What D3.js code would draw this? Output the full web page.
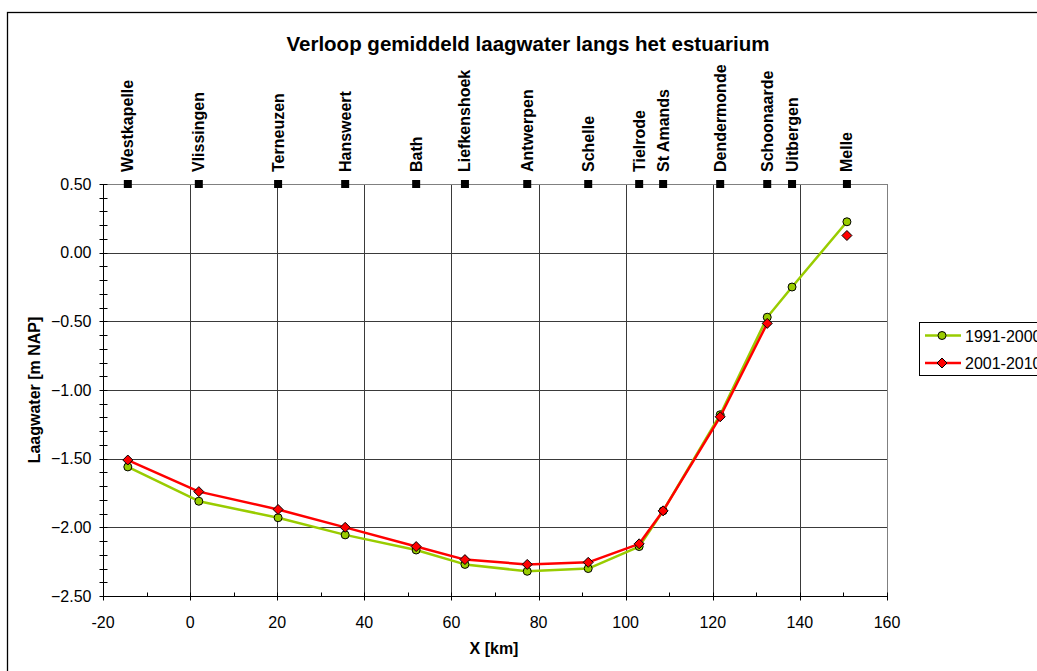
<!DOCTYPE html>
<html lang="nl">
<head>
<meta charset="UTF-8">
<title>Verloop gemiddeld laagwater</title>
<script src="https://d3js.org/d3.v7.min.js"></script>
<style>
  body { margin: 0; background: #fff; }
  text { font-family: "Liberation Sans", Arial, sans-serif; fill: #000; }
</style>
</head>
<body>
<div id="chart"></div>
<script>
// stations along the estuary (km)
var stations = ["Westkapelle", "Vlissingen", "Terneuzen", "Hansweert", "Bath", "Liefkenshoek",
  "Antwerpen", "Schelle", "Tielrode", "St Amands", "Dendermonde", "Schoonaarde", "Uitbergen", "Melle"];
var stationKm = [-14.3, 2.0, 20.2, 35.6, 51.9, 63.1, 77.4, 91.4, 103.1, 108.6, 121.7, 132.5, 138.2, 150.8];

// low water levels [m NAP]
var lw1991 = [-1.56, -1.81, -1.93, -2.055, -2.165, -2.27, -2.32, -2.30, -2.14, -1.88, -1.18, -0.47, -0.25, 0.225];
var lw2001 = [-1.51, -1.74, -1.87, -2.00, -2.14, -2.235, -2.27, -2.255, -2.12, -1.88, -1.195, -0.515, null, 0.125];

var seriesNames = ["1991-2000", "2001-2010"];
var xTicks = [-20, 0, 20, 40, 60, 80, 100, 120, 140, 160];
var yTicks = [0.5, 0, -0.5, -1, -1.5, -2, -2.5];

var W = 1037, H = 671;
var margin = {left: 103, top: 184};
var pw = 887 - margin.left, ph = 596 - margin.top;

var svg = d3.select("#chart").append("svg")
    .attr("width", W).attr("height", H);

// outer chart border (runs off the right and bottom edges)
svg.append("rect")
    .attr("x", 7.5).attr("y", 12.5)
    .attr("width", W + 20).attr("height", H + 20)
    .attr("fill", "none").attr("stroke", "#000").attr("stroke-width", 1.3);

var g = svg.append("g").attr("transform", "translate(" + margin.left + "," + margin.top + ")");

var x = d3.scaleLinear().domain([-20, 160]).range([0, pw]);
var y = d3.scaleLinear().domain([-2.5, 0.5]).range([ph, 0]);

// grid
g.selectAll(".vgrid").data(xTicks.slice(1)).enter().append("line")
    .attr("x1", function(d) { return Math.round(x(d)) + 0.5; })
    .attr("x2", function(d) { return Math.round(x(d)) + 0.5; })
    .attr("y1", 0).attr("y2", ph)
    .attr("stroke", function(d) { return d == 160 ? "#808080" : "#3a3a3a"; });
g.selectAll(".hgrid").data(yTicks.slice(0, -1)).enter().append("line")
    .attr("x1", 0).attr("x2", pw)
    .attr("y1", function(d) { return Math.round(y(d)) + 0.5; })
    .attr("y2", function(d) { return Math.round(y(d)) + 0.5; })
    .attr("stroke", function(d) { return d == 0.5 ? "#808080" : "#3a3a3a"; });

// x axis
var xAxis = g.append("g").attr("transform", "translate(0," + (ph + 0.5) + ")");
xAxis.append("line").attr("x1", 0).attr("x2", pw).attr("stroke", "#000");
xAxis.selectAll(".maj").data(xTicks).enter().append("line")
    .attr("x1", function(d) { return Math.round(x(d)) + 0.5; })
    .attr("x2", function(d) { return Math.round(x(d)) + 0.5; })
    .attr("y1", -4).attr("y2", 4).attr("stroke", "#000");
xAxis.selectAll(".min").data(d3.range(-10, 160, 20)).enter().append("line")
    .attr("x1", function(d) { return Math.round(x(d)) + 0.5; })
    .attr("x2", function(d) { return Math.round(x(d)) + 0.5; })
    .attr("y1", -4).attr("y2", 0).attr("stroke", "#000");
xAxis.selectAll(".lbl").data(xTicks).enter().append("text")
    .attr("x", function(d) { return x(d); })
    .attr("y", 31).attr("text-anchor", "middle")
    .style("font-size", "16px")
    .text(function(d) { return d; });

// y axis
var yAxis = g.append("g").attr("transform", "translate(0.5,0)");
yAxis.append("line").attr("y1", 0).attr("y2", ph).attr("stroke", "#000");
yAxis.selectAll(".tk").data(d3.range(0, 31)).enter().append("line")
    .attr("y1", function(d) { return Math.round(y(-2.5 + d * 0.1)) + 0.5; })
    .attr("y2", function(d) { return Math.round(y(-2.5 + d * 0.1)) + 0.5; })
    .attr("x1", -4).attr("x2", 4).attr("stroke", "#000");
yAxis.selectAll(".lbl").data(yTicks).enter().append("text")
    .attr("x", -12).attr("y", function(d) { return y(d) + 5.5; })
    .attr("text-anchor", "end")
    .style("font-size", "16px")
    .text(function(d) { return d3.format(".2f")(d); });

// axis titles
svg.append("text")
    .attr("x", 494).attr("y", 654).attr("text-anchor", "middle")
    .style("font-size", "16px").style("font-weight", "bold")
    .text("X [km]");
svg.append("text")
    .attr("transform", "translate(40,390) rotate(-90)")
    .attr("text-anchor", "middle")
    .style("font-size", "16px").style("font-weight", "bold")
    .text("Laagwater [m NAP]");
svg.append("text")
    .attr("x", 528).attr("y", 51).attr("text-anchor", "middle")
    .style("font-size", "20.5px").style("font-weight", "bold")
    .text("Verloop gemiddeld laagwater langs het estuarium");

// station markers and labels
g.selectAll(".st").data(stations).enter().append("rect")
    .attr("x", function(d, i) { return x(stationKm[i]) - 4; })
    .attr("y", y(0.5) - 4)
    .attr("width", 8).attr("height", 8).attr("fill", "#000");
g.selectAll(".stl").data(stations).enter().append("text")
    .attr("transform", function(d, i) {
      return "translate(" + (x(stationKm[i]) + 5.5) + "," + (y(0.5) - 12) + ") rotate(-90)";
    })
    .style("font-size", "16px").style("font-weight", "bold")
    .text(function(d) { return d; });

// series
var colors = ["#99CC00", "#FF0000"];
var allData = [lw1991, lw2001].map(function(vals) {
  return vals.map(function(v, i) { return {km: stationKm[i], v: v}; });
});

var line = d3.line()
    .defined(function(d) { return d.v != null; })
    .x(function(d) { return x(d.km); })
    .y(function(d) { return y(d.v); });

var diamondPath = "M0,-5L5,0L0,5L-5,0Z";

allData.forEach(function(data, si) {
  g.append("path").datum(data)
      .attr("d", line)
      .attr("fill", "none").attr("stroke", colors[si]).attr("stroke-width", 2.5)
      .attr("stroke-linejoin", "round");
  var pts = data.filter(function(d) { return d.v != null; });
  if (si == 0) {
    g.selectAll(".c0").data(pts).enter().append("circle")
        .attr("cx", function(d) { return x(d.km); })
        .attr("cy", function(d) { return y(d.v); })
        .attr("r", 4)
        .attr("fill", colors[si]).attr("stroke", "#000").attr("stroke-width", 1);
  } else {
    g.selectAll(".c1").data(pts).enter().append("path")
        .attr("d", diamondPath)
        .attr("transform", function(d) { return "translate(" + x(d.km) + "," + y(d.v) + ")"; })
        .attr("fill", colors[si]).attr("stroke", "#000").attr("stroke-width", 1);
  }
});

// legend
var leg = svg.append("g").attr("transform", "translate(919,322)");
leg.append("rect").attr("x", 0.5).attr("y", 0.5).attr("width", 160).attr("height", 53)
    .attr("fill", "#fff").attr("stroke", "#000");
seriesNames.forEach(function(name, i) {
  var ly = 13.5 + i * 27.5;
  leg.append("line").attr("x1", 6).attr("x2", 42).attr("y1", ly).attr("y2", ly)
      .attr("stroke", colors[i]).attr("stroke-width", 2.5);
  if (i == 0) {
    leg.append("circle").attr("cx", 23).attr("cy", ly).attr("r", 4)
        .attr("fill", colors[i]).attr("stroke", "#000");
  } else {
    leg.append("path").attr("d", diamondPath)
        .attr("transform", "translate(23," + ly + ")")
        .attr("fill", colors[i]).attr("stroke", "#000");
  }
  leg.append("text").attr("x", 46).attr("y", ly + 6)
      .style("font-size", "16px").text(name);
});
</script>
</body>
</html>
